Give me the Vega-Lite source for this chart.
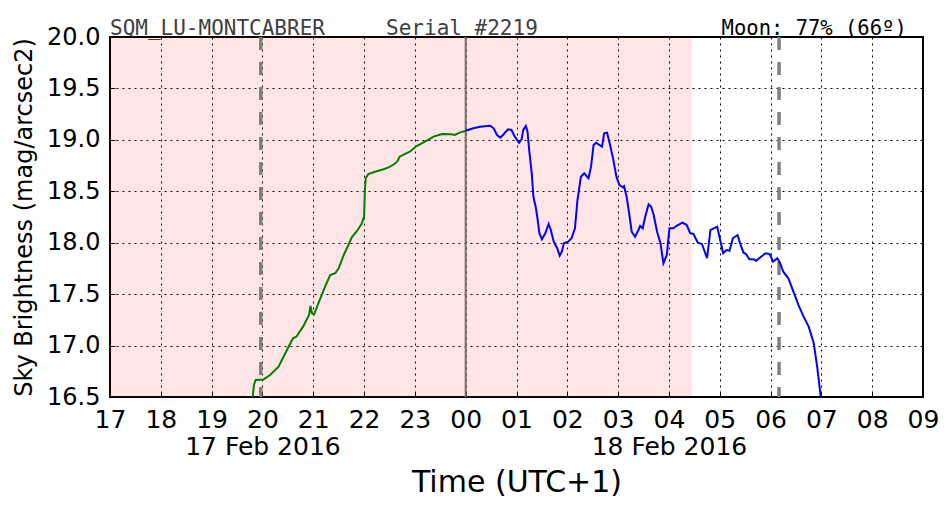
{
  "$schema": "https://vega.github.io/schema/vega-lite/v6.json",
  "width": 813,
  "height": 360,
  "autosize": "none",
  "padding": {"left": 110, "top": 37, "right": 29, "bottom": 115},
  "background": "white",
  "config": {
    "font": "DejaVu Sans",
    "view": {"stroke": "#000000", "strokeWidth": 2},
    "axis": {
      "domain": false,
      "grid": true,
      "gridColor": "#000000",
      "gridDash": [2, 4],
      "gridWidth": 1,
      "gridOpacity": 1,
      "labelFont": "DejaVu Sans",
      "labelFontSize": 24,
      "labelColor": "#000000",
      "titleFont": "DejaVu Sans",
      "titleFontWeight": "normal",
      "titleColor": "#000000",
      "ticks": true,
      "tickSize": -5,
      "tickColor": "#000000",
      "tickWidth": 1
    }
  },
  "datasets": {
    "sqm": [
      {"hour": 19.8, "v": 16.46, "part": "before"},
      {"hour": 19.833, "v": 16.617, "part": "before"},
      {"hour": 19.867, "v": 16.665, "part": "before"},
      {"hour": 20.017, "v": 16.67, "part": "before"},
      {"hour": 20.15, "v": 16.714, "part": "before"},
      {"hour": 20.317, "v": 16.795, "part": "before"},
      {"hour": 20.483, "v": 16.957, "part": "before"},
      {"hour": 20.6, "v": 17.071, "part": "before"},
      {"hour": 20.667, "v": 17.086, "part": "before"},
      {"hour": 20.8, "v": 17.184, "part": "before"},
      {"hour": 20.917, "v": 17.297, "part": "before"},
      {"hour": 20.945, "v": 17.385, "part": "before"},
      {"hour": 20.975, "v": 17.314, "part": "before"},
      {"hour": 21.017, "v": 17.304, "part": "before"},
      {"hour": 21.1, "v": 17.411, "part": "before"},
      {"hour": 21.233, "v": 17.572, "part": "before"},
      {"hour": 21.333, "v": 17.686, "part": "before"},
      {"hour": 21.433, "v": 17.703, "part": "before"},
      {"hour": 21.5, "v": 17.751, "part": "before"},
      {"hour": 21.6, "v": 17.881, "part": "before"},
      {"hour": 21.692, "v": 17.978, "part": "before"},
      {"hour": 21.758, "v": 18.053, "part": "before"},
      {"hour": 21.85, "v": 18.107, "part": "before"},
      {"hour": 21.95, "v": 18.182, "part": "before"},
      {"hour": 22.0, "v": 18.253, "part": "before"},
      {"hour": 22.017, "v": 18.513, "part": "before"},
      {"hour": 22.033, "v": 18.626, "part": "before"},
      {"hour": 22.083, "v": 18.668, "part": "before"},
      {"hour": 22.217, "v": 18.69, "part": "before"},
      {"hour": 22.383, "v": 18.714, "part": "before"},
      {"hour": 22.483, "v": 18.733, "part": "before"},
      {"hour": 22.583, "v": 18.76, "part": "before"},
      {"hour": 22.65, "v": 18.788, "part": "before"},
      {"hour": 22.7, "v": 18.836, "part": "before"},
      {"hour": 22.767, "v": 18.853, "part": "before"},
      {"hour": 22.9, "v": 18.885, "part": "before"},
      {"hour": 23.033, "v": 18.94, "part": "before"},
      {"hour": 23.233, "v": 18.992, "part": "before"},
      {"hour": 23.367, "v": 19.031, "part": "before"},
      {"hour": 23.533, "v": 19.057, "part": "before"},
      {"hour": 23.717, "v": 19.054, "part": "before"},
      {"hour": 23.783, "v": 19.047, "part": "before"},
      {"hour": 23.883, "v": 19.07, "part": "before"},
      {"hour": 24.0, "v": 19.089, "part": "before"},
      {"hour": 24.0, "v": 19.089, "part": "after"},
      {"hour": 24.15, "v": 19.112, "part": "after"},
      {"hour": 24.283, "v": 19.128, "part": "after"},
      {"hour": 24.483, "v": 19.138, "part": "after"},
      {"hour": 24.55, "v": 19.112, "part": "after"},
      {"hour": 24.617, "v": 19.047, "part": "after"},
      {"hour": 24.683, "v": 19.021, "part": "after"},
      {"hour": 24.733, "v": 19.047, "part": "after"},
      {"hour": 24.833, "v": 19.103, "part": "after"},
      {"hour": 24.9, "v": 19.096, "part": "after"},
      {"hour": 24.967, "v": 19.031, "part": "after"},
      {"hour": 25.05, "v": 18.972, "part": "after"},
      {"hour": 25.1, "v": 19.005, "part": "after"},
      {"hour": 25.133, "v": 19.096, "part": "after"},
      {"hour": 25.183, "v": 19.135, "part": "after"},
      {"hour": 25.217, "v": 19.079, "part": "after"},
      {"hour": 25.25, "v": 18.901, "part": "after"},
      {"hour": 25.3, "v": 18.675, "part": "after"},
      {"hour": 25.333, "v": 18.447, "part": "after"},
      {"hour": 25.383, "v": 18.335, "part": "after"},
      {"hour": 25.417, "v": 18.221, "part": "after"},
      {"hour": 25.45, "v": 18.092, "part": "after"},
      {"hour": 25.5, "v": 18.033, "part": "after"},
      {"hour": 25.567, "v": 18.092, "part": "after"},
      {"hour": 25.633, "v": 18.182, "part": "after"},
      {"hour": 25.675, "v": 18.124, "part": "after"},
      {"hour": 25.733, "v": 18.01, "part": "after"},
      {"hour": 25.8, "v": 17.946, "part": "after"},
      {"hour": 25.85, "v": 17.874, "part": "after"},
      {"hour": 25.892, "v": 17.913, "part": "after"},
      {"hour": 25.933, "v": 17.994, "part": "after"},
      {"hour": 26.017, "v": 18.01, "part": "after"},
      {"hour": 26.083, "v": 18.043, "part": "after"},
      {"hour": 26.15, "v": 18.14, "part": "after"},
      {"hour": 26.2, "v": 18.415, "part": "after"},
      {"hour": 26.267, "v": 18.642, "part": "after"},
      {"hour": 26.333, "v": 18.675, "part": "after"},
      {"hour": 26.417, "v": 18.626, "part": "after"},
      {"hour": 26.467, "v": 18.739, "part": "after"},
      {"hour": 26.517, "v": 18.95, "part": "after"},
      {"hour": 26.567, "v": 18.972, "part": "after"},
      {"hour": 26.633, "v": 18.95, "part": "after"},
      {"hour": 26.683, "v": 18.934, "part": "after"},
      {"hour": 26.725, "v": 19.064, "part": "after"},
      {"hour": 26.783, "v": 19.07, "part": "after"},
      {"hour": 26.833, "v": 18.967, "part": "after"},
      {"hour": 26.9, "v": 18.821, "part": "after"},
      {"hour": 26.967, "v": 18.642, "part": "after"},
      {"hour": 27.025, "v": 18.561, "part": "after"},
      {"hour": 27.092, "v": 18.539, "part": "after"},
      {"hour": 27.117, "v": 18.55, "part": "after"},
      {"hour": 27.167, "v": 18.447, "part": "after"},
      {"hour": 27.217, "v": 18.286, "part": "after"},
      {"hour": 27.267, "v": 18.107, "part": "after"},
      {"hour": 27.333, "v": 18.058, "part": "after"},
      {"hour": 27.4, "v": 18.124, "part": "after"},
      {"hour": 27.433, "v": 18.163, "part": "after"},
      {"hour": 27.483, "v": 18.14, "part": "after"},
      {"hour": 27.533, "v": 18.253, "part": "after"},
      {"hour": 27.6, "v": 18.373, "part": "after"},
      {"hour": 27.65, "v": 18.35, "part": "after"},
      {"hour": 27.7, "v": 18.27, "part": "after"},
      {"hour": 27.767, "v": 18.107, "part": "after"},
      {"hour": 27.833, "v": 17.994, "part": "after"},
      {"hour": 27.892, "v": 17.8, "part": "after"},
      {"hour": 27.958, "v": 17.881, "part": "after"},
      {"hour": 28.01, "v": 18.14, "part": "after"},
      {"hour": 28.083, "v": 18.14, "part": "after"},
      {"hour": 28.15, "v": 18.163, "part": "after"},
      {"hour": 28.267, "v": 18.195, "part": "after"},
      {"hour": 28.35, "v": 18.172, "part": "after"},
      {"hour": 28.417, "v": 18.092, "part": "after"},
      {"hour": 28.483, "v": 18.085, "part": "after"},
      {"hour": 28.567, "v": 18.0, "part": "after"},
      {"hour": 28.65, "v": 17.988, "part": "after"},
      {"hour": 28.75, "v": 17.849, "part": "after"},
      {"hour": 28.817, "v": 18.124, "part": "after"},
      {"hour": 28.883, "v": 18.14, "part": "after"},
      {"hour": 28.95, "v": 18.156, "part": "after"},
      {"hour": 29.008, "v": 18.026, "part": "after"},
      {"hour": 29.067, "v": 17.897, "part": "after"},
      {"hour": 29.133, "v": 17.929, "part": "after"},
      {"hour": 29.192, "v": 17.922, "part": "after"},
      {"hour": 29.258, "v": 18.043, "part": "after"},
      {"hour": 29.35, "v": 18.075, "part": "after"},
      {"hour": 29.4, "v": 17.994, "part": "after"},
      {"hour": 29.467, "v": 17.903, "part": "after"},
      {"hour": 29.517, "v": 17.89, "part": "after"},
      {"hour": 29.583, "v": 17.839, "part": "after"},
      {"hour": 29.667, "v": 17.839, "part": "after"},
      {"hour": 29.717, "v": 17.825, "part": "after"},
      {"hour": 29.8, "v": 17.858, "part": "after"},
      {"hour": 29.9, "v": 17.897, "part": "after"},
      {"hour": 29.983, "v": 17.89, "part": "after"},
      {"hour": 30.05, "v": 17.815, "part": "after"},
      {"hour": 30.133, "v": 17.849, "part": "after"},
      {"hour": 30.183, "v": 17.806, "part": "after"},
      {"hour": 30.25, "v": 17.718, "part": "after"},
      {"hour": 30.35, "v": 17.654, "part": "after"},
      {"hour": 30.45, "v": 17.524, "part": "after"},
      {"hour": 30.55, "v": 17.394, "part": "after"},
      {"hour": 30.65, "v": 17.281, "part": "after"},
      {"hour": 30.75, "v": 17.184, "part": "after"},
      {"hour": 30.85, "v": 17.022, "part": "after"},
      {"hour": 30.917, "v": 16.795, "part": "after"},
      {"hour": 30.983, "v": 16.52, "part": "after"},
      {"hour": 31.0, "v": 16.45, "part": "after"}
    ],
    "bands": [
      {"start": 17.0, "end": 28.45}
    ],
    "dashed": [
      {"hour": 19.967},
      {"hour": 30.167}
    ],
    "midnight": [
      {"hour": 24.0}
    ],
    "notes": [
      {"hour": 17.0, "v": 20.0, "text": "SQM_LU-MONTCABRER"},
      {"hour": 22.433, "v": 20.0, "text": "Serial #2219"}
    ],
    "moon": [
      {"hour": 32.68, "v": 20.0, "text": "Moon: 77% (66º)"}
    ]
  },
  "layer": [
    {
      "data": {"name": "bands"},
      "mark": {"type": "rect", "color": "#ff0000", "opacity": 0.1},
      "encoding": {
        "x": {
          "field": "start",
          "type": "quantitative",
          "scale": {"domain": [17, 33], "nice": false, "zero": false},
          "axis": {
            "title": "Time (UTC+1)",
            "titleFontSize": 30,
            "titlePadding": 8,
            "values": [17, 18, 19, 20, 21, 22, 23, 24, 25, 26, 27, 28, 29, 30, 31, 32, 33],
            "labelExpr": "datum.value == 20 ? ['20', '17 Feb 2016'] : datum.value == 28 ? ['04', '18 Feb 2016'] : ((datum.value % 24) < 10 ? '0' : '') + (datum.value % 24)",
            "labelFontSize": 25,
            "labelPadding": 15,
            "labelLineHeight": 27,
            "labelOverlap": false,
            "labelFlush": false,
            "labelBound": false
          }
        },
        "x2": {"field": "end"}
      }
    },
    {
      "data": {"name": "midnight"},
      "mark": {"type": "rule", "color": "#7a7070", "strokeWidth": 2},
      "encoding": {"x": {"field": "hour", "type": "quantitative"}}
    },
    {
      "data": {"name": "dashed"},
      "mark": {"type": "rule", "color": "#808080", "strokeWidth": 3.5, "strokeDash": [13, 12]},
      "encoding": {"x": {"field": "hour", "type": "quantitative"}}
    },
    {
      "data": {"name": "sqm"},
      "mark": {"type": "line", "strokeWidth": 2, "clip": true},
      "encoding": {
        "x": {"field": "hour", "type": "quantitative"},
        "y": {
          "field": "v",
          "type": "quantitative",
          "scale": {"domain": [16.5, 20.0], "zero": false, "nice": false},
          "axis": {
            "title": "Sky Brightness (mag/arcsec2)",
            "titleFontSize": 24,
            "titlePadding": 10,
            "values": [16.5, 17.0, 17.5, 18.0, 18.5, 19.0, 19.5, 20.0],
            "format": ".1f",
            "labelPadding": 15
          }
        },
        "color": {
          "field": "part",
          "type": "nominal",
          "scale": {"domain": ["before", "after"], "range": ["#008000", "#0000ff"]},
          "legend": null
        }
      }
    },
    {
      "data": {"name": "notes"},
      "mark": {"type": "text", "font": "DejaVu Sans Mono", "fontSize": 21, "align": "left", "baseline": "alphabetic", "dy": -2, "color": "#404040"},
      "encoding": {
        "x": {"field": "hour", "type": "quantitative"},
        "y": {"field": "v", "type": "quantitative"},
        "text": {"field": "text"}
      }
    },
    {
      "data": {"name": "moon"},
      "mark": {"type": "text", "font": "DejaVu Sans Mono", "fontSize": 20.5, "align": "right", "baseline": "alphabetic", "dy": -2, "color": "#000000"},
      "encoding": {
        "x": {"field": "hour", "type": "quantitative"},
        "y": {"field": "v", "type": "quantitative"},
        "text": {"field": "text"}
      }
    }
  ]
}
